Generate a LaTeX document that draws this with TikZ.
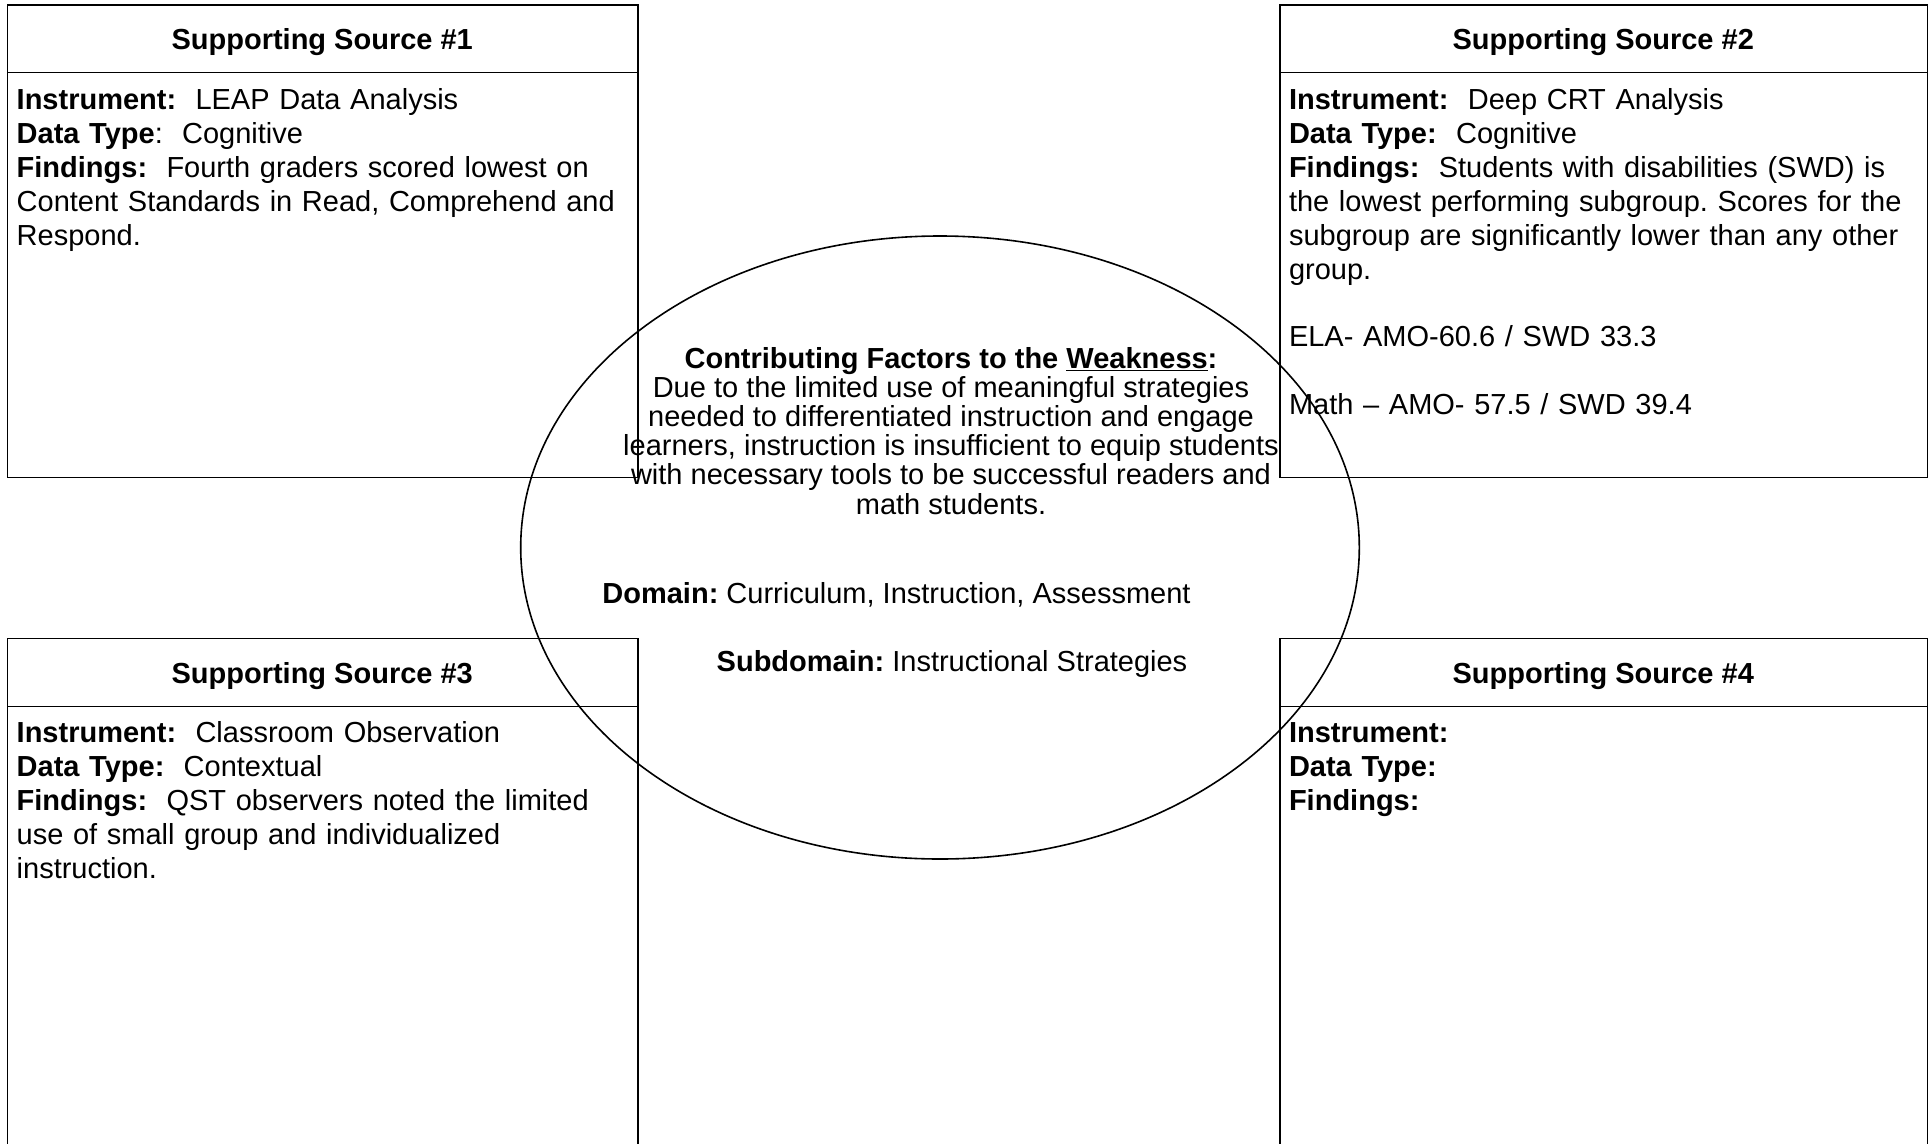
\documentclass[tikz,border=0pt]{standalone}
\usepackage{fontspec}
\setmainfont{Liberation Sans}
\usetikzlibrary{shapes.geometric}
\frenchspacing

\newcommand{\boxfont}{\fontsize{29}{33.9}\selectfont}
\newcommand{\ovalfont}{\fontsize{29}{29.1}\selectfont}

\tikzset{
  frame/.style={draw, line width=1.3pt, inner sep=0pt, anchor=north west},
  rule/.style={line width=1.3pt},
  heading/.style={anchor=base, inner sep=0pt, font=\boxfont\bfseries},
  body/.style={anchor=base west, inner sep=0pt, align=left, text width=700pt, font=\boxfont},
  oval/.style={draw, ellipse, line width=1.6pt, inner sep=0pt},
  ovaltext/.style={anchor=base, inner sep=0pt, align=center, font=\ovalfont},
}

\begin{document}
\begin{tikzpicture}[x=1pt,y=-1pt]
\useasboundingbox (0,0) rectangle (1932,1143);
\clip (0,0) rectangle (1932,1143);

% the four source panels
\node[frame, minimum width=630.3pt, minimum height=472.4pt] (s1) at (7,4.3) {};
\node[frame, minimum width=647.7pt, minimum height=472.4pt] (s2) at (1279.3,4.3) {};
\node[frame, minimum width=630.3pt, minimum height=530pt] (s3) at (7,637.7) {};
\node[frame, minimum width=647.7pt, minimum height=530pt] (s4) at (1279.3,637.7) {};

% header rules
\coordinate (top rule) at (0,72.7);
\coordinate (low rule) at (0,706.7);
\draw[rule] (s1.west |- top rule) -- (s1.east |- top rule);
\draw[rule] (s2.west |- top rule) -- (s2.east |- top rule);
\draw[rule] (s3.west |- low rule) -- (s3.east |- low rule);
\draw[rule] (s4.west |- low rule) -- (s4.east |- low rule);

% panel headings
\node[heading] (t1) at (322.2,49) {Supporting Source \#1};
\node[heading] (t2) at (1603.2,49) {Supporting Source \#2};
\node[heading] (t3) at (322.2,683) {Supporting Source \#3};
\node[heading] (t4) at (1603.2,683) {Supporting Source \#4};

% panel contents
\node[body] (b1) at (16.5,109.5) {%
\textbf{Instrument:}\ \ LEAP Data Analysis\\
\textbf{Data Type}:\ \ Cognitive\\
\textbf{Findings:}\ \ Fourth graders scored lowest on\\
Content Standards in Read, Comprehend and\\
Respond.};

\node[body] (b2) at (1288.8,109.5) {%
\textbf{Instrument:}\ \ Deep CRT Analysis\\
\textbf{Data Type:}\ \ Cognitive\\
\textbf{Findings:}\ \ Students with disabilities (SWD) is\\
the lowest performing subgroup. Scores for the\\
subgroup are significantly lower than any other\\
group.\\[33.9pt]
ELA- AMO-60.6 / SWD 33.3\\[33.9pt]
Math – AMO- 57.5 / SWD 39.4};

\node[body] (b3) at (16.5,742.5) {%
\textbf{Instrument:}\ \ Classroom Observation\\
\textbf{Data Type:}\ \ Contextual\\
\textbf{Findings:}\ \ QST observers noted the limited\\
use of small group and individualized\\
instruction.};

\node[body] (b4) at (1288.8,742.5) {%
\textbf{Instrument:}\\
\textbf{Data Type:}\\
\textbf{Findings:}};

% central oval with the contributing factors
\node[oval, minimum width=838.6pt, minimum height=623pt] (ell) at (940,547.5) {};

% anchored on the baseline of its last line
\node[ovaltext] (cf) at (951,514) {%
\textbf{Contributing Factors to the \underline{Weakness}:}\\
Due to the limited use of meaningful strategies\\
needed to differentiated instruction and engage\\
learners, instruction is insufficient to equip students\\
with necessary tools to be successful readers and\\
math students.};

\node[ovaltext] (dom) at (896.5,603) {\textbf{Domain:} Curriculum, Instruction, Assessment};
\node[ovaltext] (sub) at (952,671) {\textbf{Subdomain:} Instructional Strategies};
\end{tikzpicture}
\end{document}
